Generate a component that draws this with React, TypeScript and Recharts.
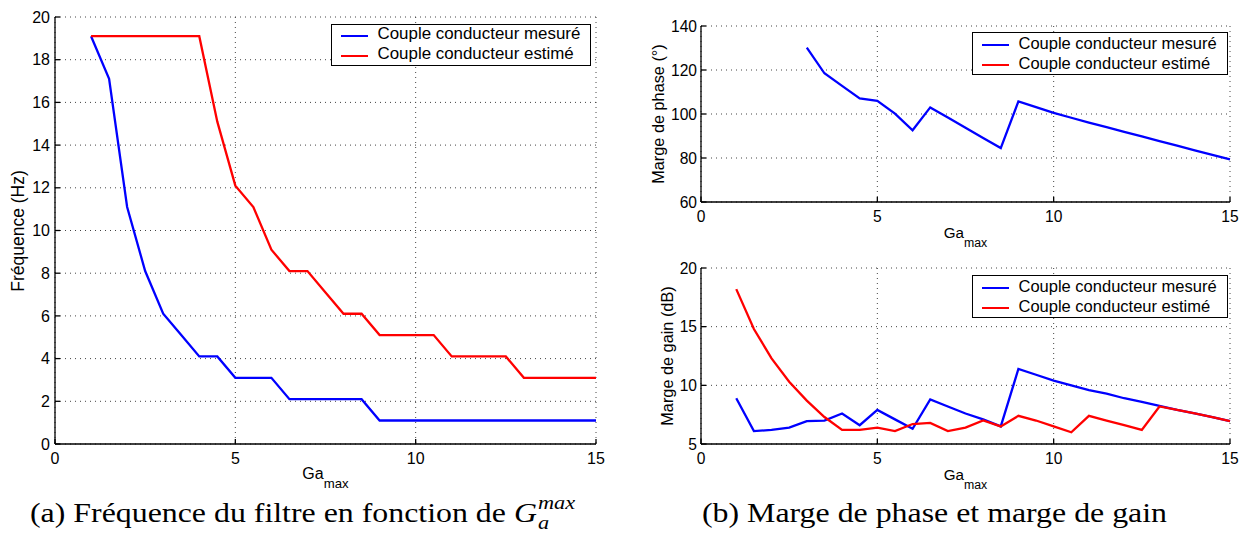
import { LineChart, Line, XAxis, YAxis, CartesianGrid } from 'recharts';

// Ga max values (abscissa shared by all three plots)
const gaMax = [1, 1.5, 2, 2.5, 3, 3.5, 4, 4.5, 5, 5.5, 6, 6.5, 7, 7.5, 8, 8.5, 9, 9.5, 10, 10.5, 11, 11.5, 12, 12.5, 13, 13.5, 14, 14.5, 15];

// (a) filter frequency (Hz)
const freqMeasured = [19.1, 17.1, 11.1, 8.1, 6.1, 5.1, 4.1, 4.1, 3.1, 3.1, 3.1, 2.1, 2.1, 2.1, 2.1, 2.1, 1.1, 1.1, 1.1, 1.1, 1.1, 1.1, 1.1, 1.1, 1.1, 1.1, 1.1, 1.1, 1.1];
const freqEstimated = [19.1, 19.1, 19.1, 19.1, 19.1, 19.1, 19.1, 15.1, 12.1, 11.1, 9.1, 8.1, 8.1, 7.1, 6.1, 6.1, 5.1, 5.1, 5.1, 5.1, 4.1, 4.1, 4.1, 4.1, 3.1, 3.1, 3.1, 3.1, 3.1];

// (b) phase margin (deg) - only the measured torque has values
const phaseMeasured = [null, null, null, null, 130.2, 118.5, 112.8, 107.1, 106, 100.2, 92.6, 103, 98.4, 93.8, 89.1, 84.5, 105.7, 103.1, 100.5, 98.3, 96.1, 94, 91.9, 89.8, 87.7, 85.6, 83.5, 81.4, 79.4];

// (b) gain margin (dB)
const gainMeasured = [8.9, 6.1, 6.2, 6.4, 6.95, 7.0, 7.6, 6.6, 7.9, 7.1, 6.3, 8.8, 8.2, 7.6, 7.1, 6.5, 11.4, 10.9, 10.4, 10.0, 9.6, 9.3, 8.9, 8.6, 8.25, 7.9, 7.6, 7.3, 6.95];
const gainEstimated = [18.2, 14.8, 12.3, 10.3, 8.7, 7.3, 6.2, 6.2, 6.4, 6.1, 6.7, 6.8, 6.1, 6.4, 7.0, 6.5, 7.4, 7.0, 6.5, 6.0, 7.4, 7.0, 6.6, 6.2, 8.2, 7.9, 7.6, 7.3, 6.95];

const xTicks = [0, 5, 10, 15];
const freqTicks = [0, 2, 4, 6, 8, 10, 12, 14, 16, 18, 20];
const phaseTicks = [60, 80, 100, 120, 140];
const gainTicks = [5, 10, 15, 20];

const seriesNames = ['Couple conducteur mesuré', 'Couple conducteur estimé'];
const BLUE = '#0000ff';
const RED = '#ff0000';
const SANS = '"Liberation Sans", Arial, Helvetica, sans-serif';
const SERIF = '"Liberation Serif", "Times New Roman", serif';

const freqData = gaMax.map((x, i) => ({ x, measured: freqMeasured[i], estimated: freqEstimated[i] }));
const phaseData = gaMax.map((x, i) => ({ x, measured: phaseMeasured[i] }));
const gainData = gaMax.map((x, i) => ({ x, measured: gainMeasured[i], estimated: gainEstimated[i] }));

const axisStroke = { stroke: '#000', strokeWidth: 1.3 };

function Panel({ data, yDomain, yTicks, width, height, margin, series, fontSize, yTickMargin }: any) {
  const tick = { fill: '#000', fontSize, fontFamily: SANS };
  return (
    <LineChart width={width} height={height} data={data} margin={margin}>
      <CartesianGrid stroke="#444" strokeDasharray="1 4" />
      <XAxis dataKey="x" type="number" domain={[0, 15]} ticks={xTicks} interval={0} height={30}
        tickSize={-5} tickMargin={13.5} tick={tick} axisLine={axisStroke} tickLine={axisStroke} />
      <XAxis xAxisId="top" orientation="top" type="number" domain={[0, 15]} ticks={xTicks} interval={0} height={0}
        tickSize={-5} tick={false} axisLine={axisStroke} tickLine={axisStroke} />
      <YAxis type="number" domain={yDomain} ticks={yTicks} interval={0} width={40}
        tickSize={-5} tickMargin={yTickMargin} tick={tick} axisLine={axisStroke} tickLine={axisStroke} />
      <YAxis yAxisId="right" orientation="right" type="number" domain={yDomain} ticks={yTicks} interval={0} width={0}
        tickSize={-5} tick={false} axisLine={axisStroke} tickLine={axisStroke} />
      {series.map((s: any) => (
        <Line key={s.key} type="linear" dataKey={s.key} stroke={s.color} strokeWidth={2.3}
          dot={false} activeDot={false} isAnimationActive={false} />
      ))}
    </LineChart>
  );
}

function LegendBox({ left, top, width, height, rows, fontSize }: any) {
  return (
    <div style={{ position: 'absolute', left, top, width, height, boxSizing: 'border-box', border: '1.3px solid #000', background: '#fff', fontFamily: SANS }}>
      {seriesNames.map((name, i) => (
        <div key={name} style={{ position: 'absolute', left: 0, top: rows[i], height: 0 }}>
          <div style={{ position: 'absolute', left: 9, top: -1.2, width: 27, height: 2.4, background: i === 0 ? BLUE : RED }} />
          <div style={{ position: 'absolute', left: 46, top: -fontSize * 0.58, fontSize, lineHeight: 1, whiteSpace: 'nowrap' }}>{name}</div>
        </div>
      ))}
    </div>
  );
}

function YTitle({ cx, cy, text, fontSize }: any) {
  return (
    <div style={{ position: 'absolute', left: cx, top: cy, transform: 'translate(-50%, -50%) rotate(-90deg)', fontFamily: SANS, fontSize, lineHeight: 1, whiteSpace: 'nowrap' }}>
      {text}
    </div>
  );
}

function GaTitle({ cx, baseline, size, subSize }: any) {
  return (
    <div style={{ position: 'absolute', left: cx, top: baseline - size * 0.85, transform: 'translateX(-50%)', fontFamily: SANS, fontSize: size, lineHeight: 1, whiteSpace: 'nowrap' }}>
      Ga<span style={{ fontSize: subSize, position: 'relative', top: 9, lineHeight: 0 }}>max</span>
    </div>
  );
}

const captionStyle: any = {
  position: 'absolute', top: 500, fontFamily: SERIF, fontSize: 27, lineHeight: 1, whiteSpace: 'nowrap',
  transform: 'scaleX(1.18)', transformOrigin: 'left top',
};

export default function App() {
  return (
    <div style={{ position: 'absolute', left: 0, top: 0, width: 1250, height: 537, background: '#fff', overflow: 'hidden' }}>
      {/* (a) filter frequency */}
      <div style={{ position: 'absolute', left: 0, top: 0 }}>
        <Panel data={freqData} yDomain={[0, 20]} yTicks={freqTicks} width={620} height={500}
          margin={{ top: 17, right: 24, bottom: 26, left: 15 }} fontSize={16} yTickMargin={10}
          series={[{ key: 'measured', color: BLUE }, { key: 'estimated', color: RED }]} />
      </div>
      <YTitle cx={18.5} cy={230.5} text="Fréquence (Hz)" fontSize={17.5} />
      <GaTitle cx={325.5} baseline={480} size={16} subSize={13.2} />
      <LegendBox left={330.5} top={24} width={260} height={42} rows={[11, 30.7]} fontSize={16.9} />

      {/* (b) phase margin */}
      <div style={{ position: 'absolute', left: 640, top: 0 }}>
        <Panel data={phaseData} yDomain={[60, 140]} yTicks={phaseTicks} width={610} height={250}
          margin={{ top: 26, right: 20, bottom: 18, left: 21 }} fontSize={15.6} yTickMargin={9}
          series={[{ key: 'measured', color: BLUE }]} />
      </div>
      <YTitle cx={658} cy={114} text="Marge de phase (°)" fontSize={16.3} />
      <GaTitle cx={965.5} baseline={238} size={15.2} subSize={12.3} />
      <LegendBox left={971.5} top={31.5} width={256} height={43} rows={[12.5, 32.5]} fontSize={16.5} />

      {/* (b) gain margin */}
      <div style={{ position: 'absolute', left: 640, top: 250 }}>
        <Panel data={gainData} yDomain={[5, 20]} yTicks={gainTicks} width={610} height={250}
          margin={{ top: 18, right: 20, bottom: 26, left: 21 }} fontSize={15.6} yTickMargin={9}
          series={[{ key: 'measured', color: BLUE }, { key: 'estimated', color: RED }]} />
      </div>
      <YTitle cx={667} cy={356} text="Marge de gain (dB)" fontSize={16.3} />
      <GaTitle cx={965.5} baseline={480} size={15.2} subSize={12.3} />
      <LegendBox left={971.5} top={274.5} width={256} height={43} rows={[12.2, 32.2]} fontSize={16.5} />

      {/* captions */}
      <div style={{ ...captionStyle, left: 30 }}>
        (a) Fréquence du filtre en fonction de <i>G</i>
        <span style={{ position: 'relative', display: 'inline-block', width: '1.75em', height: 0, fontSize: '0.7em' }}>
          <span style={{ position: 'absolute', left: '0.05em', bottom: '-0.55em', lineHeight: 1.05, fontStyle: 'italic' }}>
            max<br />a
          </span>
        </span>
      </div>
      <div style={{ ...captionStyle, left: 702 }}>
        (b) Marge de phase et marge de gain
      </div>
    </div>
  );
}
